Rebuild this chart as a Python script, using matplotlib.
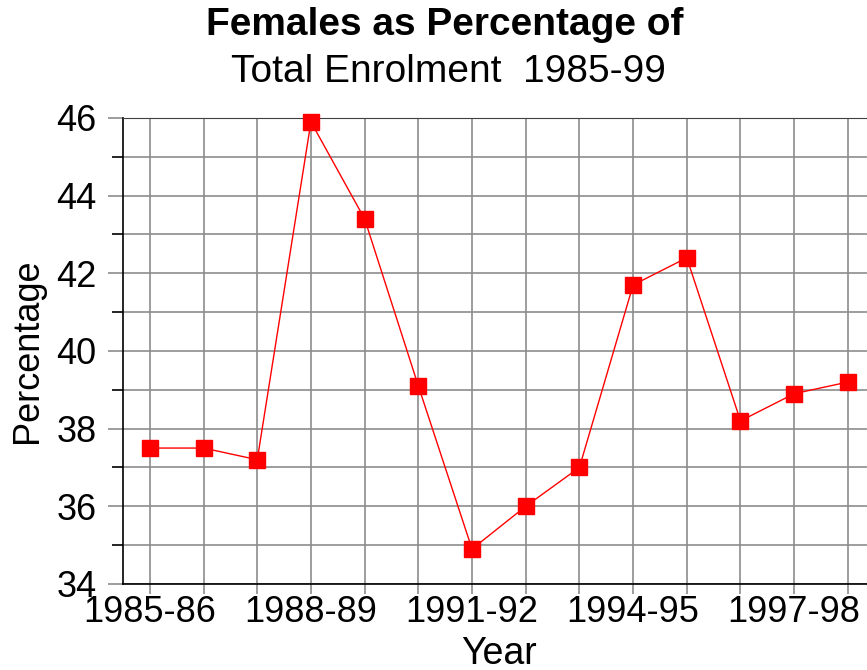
import numpy as np
import matplotlib.pyplot as plt
from matplotlib.ticker import MultipleLocator

years = ["1985-86", "1986-87", "1987-88", "1988-89", "1989-90", "1990-91", "1991-92",
         "1992-93", "1993-94", "1994-95", "1995-96", "1996-97", "1997-98", "1998-99"]
pct = [37.5, 37.5, 37.2, 45.9, 43.4, 39.1, 34.9, 36.0, 37.0, 41.7, 42.4, 38.2, 38.9, 39.2]

plt.rcParams['font.family'] = ['Liberation Sans', 'DejaVu Sans']

def main():
    fig = plt.figure(figsize=(8.67, 6.70), dpi=100)
    ax = fig.add_axes([0.1419, 0.1284, 0.867, 0.6955])

    x = np.arange(len(years))
    ax.plot(x, pct, color="red", lw=1, marker="s", ms=11, mec="red", mfc="red",
            clip_on=False, zorder=3)

    ax.set_xlim(-0.5, len(years) - 0.5)
    ax.set_ylim(34, 46)

    ax.set_xticks(x)
    ax.set_xticklabels([y if i % 3 == 0 else "" for i, y in enumerate(years)])
    ax.yaxis.set_major_locator(MultipleLocator(2))
    ax.yaxis.set_minor_locator(MultipleLocator(1))

    ax.grid(True, which="both", color="#8c8c8c", lw=1.2)
    ax.set_axisbelow(True)
    ax.tick_params(axis="both", labelsize=26, colors="#8c8c8c", labelcolor="black")
    ax.tick_params(axis="y", which="major", length=11, width=1.2, pad=8)
    ax.tick_params(axis="y", which="minor", length=8, width=1.2)
    ax.tick_params(axis="x", length=7, width=1.2, pad=1)

    for s in ["left", "bottom"]:
        ax.spines[s].set_color("black")
        ax.spines[s].set_linewidth(1.2)
    ax.spines["top"].set_color("#404040")
    ax.spines["right"].set_visible(False)

    ax.set_ylabel("Percentage", fontsize=26, labelpad=8)
    ax.set_xlabel("Year", fontsize=27, labelpad=4)

    fig.text(0.513, 0.962, "Females as Percentage of", ha="center", va="center",
             fontsize=28, fontweight="bold")
    fig.text(0.517, 0.893, "Total Enrolment  1985-99", ha="center", va="center",
             fontsize=28)

    fig.savefig("out.png", dpi=100)

if __name__ == '__main__':
    main()
